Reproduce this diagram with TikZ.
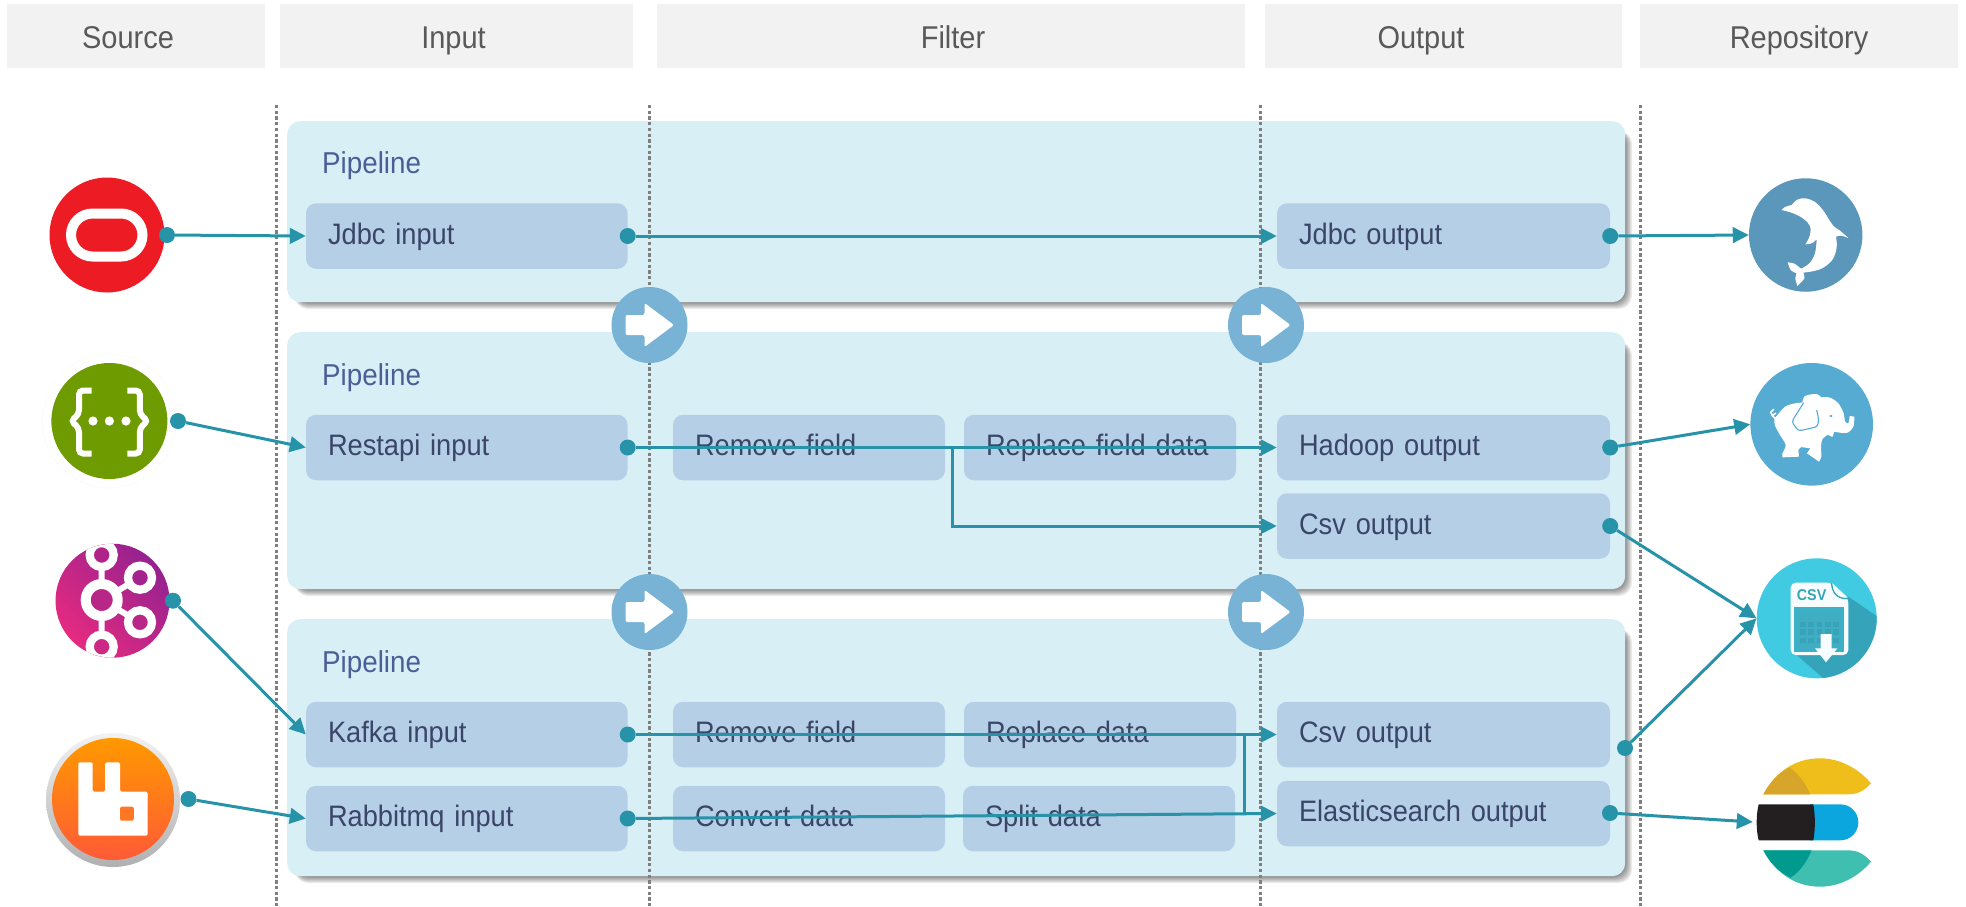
\documentclass[tikz,border=0pt]{standalone}
\usepackage{fontspec}
\setmainfont[FakeStretch=0.92,WordSpace=0.75]{Liberation Sans}
\usetikzlibrary{arrows.meta,calc}
\definecolor{hdrfill}{HTML}{F2F2F2}
\definecolor{hdrtext}{HTML}{595959}
\definecolor{pipefill}{HTML}{D9EFF6}
\definecolor{pipetext}{HTML}{4A5F96}
\definecolor{boxfill}{HTML}{B5CFE7}
\definecolor{boxtext}{HTML}{3A4568}
\definecolor{linkc}{HTML}{2793A8}
\definecolor{flowc}{HTML}{78B3D6}
\definecolor{dotgray}{HTML}{7F7F7F}
\definecolor{csvc}{HTML}{41CBE3}
\definecolor{csvd}{HTML}{35A4BA}
\definecolor{csvp}{HTML}{3BB0C6}
\definecolor{csvi}{HTML}{3FAEC3}
\definecolor{csvg}{HTML}{37A2B8}
\definecolor{bluebg}{HTML}{56ABD3}
\definecolor{mysqlbg}{HTML}{5B97BA}
\definecolor{orared}{RGB}{237,28,36}
\definecolor{swagring}{RGB}{250,250,246}
\definecolor{swaggreen}{RGB}{109,155,0}
\definecolor{kafpink}{RGB}{230,42,128}
\definecolor{kafpurple}{RGB}{150,34,144}
\definecolor{kafa}{RGB}{184,38,136}
\definecolor{kafb}{RGB}{176,36,138}
\definecolor{kafc}{RGB}{205,40,132}
\definecolor{kafd}{RGB}{165,35,140}
\definecolor{rabla}{RGB}{242,242,242}
\definecolor{rablb}{RGB}{176,176,176}
\definecolor{rabta}{RGB}{255,153,0}
\definecolor{rabtb}{RGB}{255,90,54}
\definecolor{rabh}{RGB}{255,118,36}
\definecolor{esyel}{RGB}{240,190,27}
\definecolor{esyeld}{RGB}{215,165,41}
\definecolor{esblue}{RGB}{12,166,223}
\definecolor{esblack}{RGB}{35,31,32}
\definecolor{esteal}{RGB}{62,191,176}
\definecolor{estealm}{RGB}{0,155,142}
\tikzset{
  hdrbox/.style={fill=hdrfill,inner sep=0pt},
  hdrlabel/.style={anchor=base,text=hdrtext,font=\fontsize{31.5}{34}\selectfont,inner sep=0pt},
  pipebox/.style={fill=pipefill,rounded corners=13pt,inner sep=0pt,anchor=north west},
  pipelabel/.style={anchor=base west,text=pipetext,font=\fontsize{30.2}{34}\selectfont,inner sep=0pt},
  elem/.style={fill=boxfill,rounded corners=10pt,inner xsep=22pt,inner ysep=0pt,minimum height=65.5pt,
     text=boxtext,font=\fontsize{29.6}{34}\selectfont,align=left,text height=22pt,text depth=6pt},
  elemin/.style={elem,minimum width=321.5pt,text width=277.5pt},
  elemflt/.style={elem,minimum width=272pt,text width=228pt},
  elemout/.style={elem,minimum width=333pt,text width=289pt},
  jointdot/.style={circle,fill=linkc,inner sep=0pt,minimum size=16pt},
  link/.style={draw=linkc,line width=3pt,-{Triangle[length=16pt,width=15.5pt]}},
  branch/.style={draw=linkc,line width=3pt},
  divider/.style={draw=dotgray,line width=3pt,dash pattern=on 3.3pt off 2.4pt},
  flowdisc/.style={circle,fill=flowc,inner sep=0pt,minimum size=76pt},
  icon/.style={circle,inner sep=0pt},
  flowarrow/.pic={\fill[white,rounded corners=2pt] (-24,-10) -- (-5,-10) -- (-5,-22) -- (24.5,0) -- (-5,22) -- (-5,10) -- (-24,10) -- cycle;}
}
\newcommand{\softshadow}[4]{%
  \foreach \k in {1,...,10}{\fill[black,opacity=.075,rounded corners=13pt] ({#1+8},{#2+10}) rectangle ({#3-3+\k},{#4-3+\k});}}
\begin{document}
\begin{tikzpicture}[x=1pt,y=-1pt]
\useasboundingbox (0,0) rectangle (1966,906);
% headers
\node[hdrbox,minimum width=258pt,minimum height=64pt] (hs) at (136,36) {};
\node[hdrbox,minimum width=353pt,minimum height=64pt] (hi) at (456.5,36) {};
\node[hdrbox,minimum width=588pt,minimum height=64pt] (hf) at (951,36) {};
\node[hdrbox,minimum width=357pt,minimum height=64pt] (ho) at (1443.5,36) {};
\node[hdrbox,minimum width=318pt,minimum height=64pt] (hr) at (1799,36) {};
\node[hdrlabel] (ls) at (128,48) {Source};
\node[hdrlabel] (li) at (453.5,48) {Input};
\node[hdrlabel] (lf) at (953,48) {Filter};
\node[hdrlabel] (lo) at (1421,48) {Output};
\node[hdrlabel] (lr) at (1799,48) {Repository};
% pipelines
\softshadow{287}{121}{1625}{302}
\softshadow{287}{332}{1625}{589}
\softshadow{287}{619}{1625}{876}
\node[pipebox,minimum width=1338pt,minimum height=181pt] (p1) at (287,121) {};
\node[pipebox,minimum width=1338pt,minimum height=257pt] (p2) at (287,332) {};
\node[pipebox,minimum width=1338pt,minimum height=257pt] (p3) at (287,619) {};
\node[pipelabel] (p1l) at (322,173.5) {Pipeline};
\node[pipelabel] (p2l) at (322,385) {Pipeline};
\node[pipelabel] (p3l) at (322,672) {Pipeline};
% dividers
\coordinate (v1t) at (276,105); \coordinate (v1b) at (276,906);
\coordinate (v2t) at (649.5,105); \coordinate (v2b) at (649.5,906);
\coordinate (v3t) at (1260,105); \coordinate (v3b) at (1260,906);
\coordinate (v4t) at (1640,105); \coordinate (v4b) at (1640,906);
\draw[divider] (v1t) -- (v1b);
\draw[divider] (v2t) -- (v2b);
\draw[divider] (v3t) -- (v3b);
\draw[divider] (v4t) -- (v4b);
% flow arrows
\node[flowdisc] (f1) at (649.5,325) {};
\node[flowdisc] (f2) at (1266,325) {};
\node[flowdisc] (f3) at (649.5,612) {};
\node[flowdisc] (f4) at (1266,612) {};
\pic at (f1) {flowarrow}; \pic at (f2) {flowarrow}; \pic at (f3) {flowarrow}; \pic at (f4) {flowarrow};
% elements
\node[elemin] (jin) at (466.75,236) {Jdbc input};
\node[elemout] (jout) at (1443.5,236) {Jdbc output};
\node[elemin] (rin) at (466.75,447.5) {Restapi input};
\node[elemflt] (rm1) at (809,447.5) {Remove field};
\node[elemflt] (rp1) at (1100,447.5) {Replace field data};
\node[elemout] (hout) at (1443.5,447.5) {Hadoop output};
\node[elemout] (c2out) at (1443.5,526) {Csv output};
\node[elemin] (kin) at (466.75,734.5) {Kafka input};
\node[elemflt] (rm2) at (809,734.5) {Remove field};
\node[elemflt] (rp2) at (1100,734.5) {Replace data};
\node[elemout] (c3out) at (1443.5,734.5) {Csv output};
\node[elemin] (qin) at (466.75,818.5) {Rabbitmq input};
\node[elemflt] (cv) at (809,818.5) {Convert data};
\node[elemflt] (sp) at (1099,818.5) {Split data};
\node[elemout] (eout) at (1443.5,813.5) {Elasticsearch output};
% source icons
\node[icon,fill=orared,minimum size=115pt] (oracle) at (107,235) {};
\draw[white,line width=10pt,rounded corners=21.5pt] (71,213.5) rectangle (142.5,256.5);
\node[icon,draw=swagring,line width=.7pt,minimum size=134pt] (swagoutline) at (109.4,421) {};
\node[icon,fill=swaggreen,minimum size=116pt] (swagger) at (109.4,421) {};
\begin{scope}[white,line width=6pt,rounded corners=4pt]
\draw (91.5,390.5) -- (79,390.5) -- (79,414) -- (71,421) -- (79,428) -- (79,453.5) -- (91.5,453.5);
\draw (127.3,390.5) -- (139.8,390.5) -- (139.8,414) -- (147.8,421) -- (139.8,428) -- (139.8,453.5) -- (127.3,453.5);
\end{scope}
\fill[white] (93,421) circle (4.6pt) (109.4,421) circle (4.6pt) (126,421) circle (4.6pt);
\node[icon,left color=kafpink,right color=kafpurple,shading angle=135,minimum size=114pt] (kafka) at (112.5,600.7) {};
\begin{scope}
\clip (112.5,600.7) circle (57pt);
\draw[white,line width=6pt] (101.7,555) -- (101.7,646.7) (101.7,600) -- (140,577.7) (101.7,600) -- (140,622.3);
\draw[white,line width=10pt,fill=kafa] (101.7,600) circle (16pt);
\draw[white,line width=8.3pt,fill=kafb] (101.7,555) circle (12pt);
\draw[white,line width=8.3pt,fill=kafc] (101.7,646.7) circle (12pt);
\draw[white,line width=8.3pt,fill=kafd] (140,577.7) circle (12pt);
\draw[white,line width=8.3pt,fill=kafa] (140,622.3) circle (12pt);
\end{scope}
\node[icon,top color=rabla,bottom color=rablb,minimum size=134pt] (rabring) at (113,800) {};
\node[icon,top color=rabta,bottom color=rabtb,minimum size=122pt] (rabbit) at (113,799) {};
\fill[white,rounded corners=1.5pt] (78.3,762.3) -- (92.6,762.3) -- (92.6,791.7) -- (105.2,791.7) -- (105.2,762.3) -- (120,762.3) -- (120,791.7) -- (147.7,791.7) -- (147.7,835.7) -- (78.3,835.7) -- cycle;
\fill[rabh,rounded corners=2pt] (120,806.7) rectangle (133.8,820.7);
% repository icons
\node[icon,fill=mysqlbg,minimum size=113.5pt] (mysql) at (1805.7,235) {};
\begin{scope}[shift={(1740,170)},scale=1/3]
\fill[white] plot[smooth,tension=.6] coordinates {(125,120) (135,111) (155,105)} -- plot[smooth,tension=.6] coordinates {(155,105) (172,89) (197,85) (225,96) (250,122) (278,165) (300,182) (325,204)} -- plot[smooth,tension=.6] coordinates {(325,204) (303,197) (288,200)} -- plot[smooth,tension=.6] coordinates {(288,200) (290,232) (278,268) (250,293) (222,303) (190,308)} -- plot[smooth,tension=.5] coordinates {(190,308) (193,325) (172,348)} -- plot[smooth,tension=.5] coordinates {(172,348) (166,325) (170,310)} -- plot[smooth,tension=.5] coordinates {(170,310) (152,300) (143,277)} -- plot[smooth,tension=.5] coordinates {(143,277) (163,281) (183,296)} -- plot[smooth,tension=.6] coordinates {(183,296) (208,280) (225,250) (230,208)} -- plot[smooth,tension=.5] coordinates {(230,208) (215,220) (196,223)} -- plot[smooth,tension=.6] coordinates {(196,223) (209,198) (210,168) (190,146) (160,130) (125,120)} -- cycle;
\end{scope}
\node[icon,fill=bluebg,minimum size=122.6pt] (hadoop) at (1811.7,424.3) {};
\begin{scope}[shift={(1745,360)},scale=1/3]
\fill[white] plot[smooth,tension=.55] coordinates {(95,168) (120,140) (150,130) (172,128)} -- plot[smooth,tension=.55] coordinates {(172,128) (180,108) (215,102) (228,112)} -- plot[smooth,tension=.55] coordinates {(228,112) (255,113) (280,130) (296,160) (300,184) (310,190) (314,168)} -- (328,170) -- plot[smooth,tension=.55] coordinates {(328,170) (325,200) (308,218) (285,218) (268,215)} -- (262,231) -- (248,224) -- plot[smooth,tension=.5] coordinates {(248,224) (232,238) (228,262) (229,290) (222,305)} -- (186,280) -- (196,265) -- (168,261) -- (160,270) -- (162,290) -- (112,292) -- (112,280) -- plot[smooth,tension=.5] coordinates {(112,280) (122,255) (105,225) (90,197) (88,178) (95,168)} -- cycle;
\draw[white,line width=1.6pt,line cap=round] (92,176) .. controls (82,172) and (82,165) .. (77,157) (77,157) -- (86,148) (82,166) -- (92,160);
\draw[bluebg,line width=1.1pt,rounded corners=3pt] (176,128) -- (140,185) -- (160,213) -- (218,200) -- (221,178) -- (215,150);
\fill[bluebg] (258,168) ellipse (5 and 3.5);
\end{scope}
\node[icon,fill=csvc,minimum size=120pt] (csv) at (1816.7,618.3) {};
\begin{scope}[shift={(1750,555)},scale=1/3]
\begin{scope}
\clip (200,190) circle (180);
\fill[csvd] (295,125) -- (380,183) -- (420,300) -- (300,420) -- (218,368) -- (140,300) -- cycle;
\end{scope}
\fill[white!96!csvc,rounded corners=5pt] (122,83) -- (245,83) -- (295,130) -- (295,300) -- (122,300) -- cycle;
\fill[csvp] (132,155) rectangle (283,290);
\fill[csvi,rounded corners=3pt] (143,170) rectangle (272,283);
\foreach \cx in {150,175,200,225,250}{\foreach \cy in {200,223,248}{\fill[csvg] (\cx,\cy) rectangle +(17,17);}}
\fill[white!96!csvc] (212,237) -- (245,237) -- (245,280) -- (262,280) -- (228,322) -- (195,280) -- (212,280) -- cycle;
\draw[csvd,line width=1.3pt,fill=white!96!csvc] (245,83) .. controls (245,112) and (262,134) .. (295,130);
\node[text=csvd,inner sep=0pt,anchor=base west,font=\bfseries\fontsize{15.6}{17}\selectfont] (csvt) at (140,135) {CSV};
\end{scope}
\begin{scope}[shift={(1600,500)},scale=1/3]
\fill[esyel] (490,883) .. controls (530,810) and (590,775) .. (660,775) .. controls (720,775) and (775,805) .. (813,850) .. controls (795,870) and (775,883) .. (745,883) -- cycle;
\fill[esyeld] (490,883) .. controls (510,845) and (535,820) .. (568,802) .. controls (600,825) and (620,855) .. (630,883) -- cycle;
\fill[esblue] (630,913) -- (721,913) .. controls (751,913) and (775,937) .. (775,967) .. controls (775,997) and (751,1021) .. (721,1021) -- (630,1021) -- cycle;
\fill[esblack] (476,913) -- (640,913) .. controls (646,945) and (646,990) .. (640,1021) -- (476,1021) .. controls (468,990) and (468,945) .. (476,913) -- cycle;
\fill[esteal] (490,1051) .. controls (530,1124) and (590,1160) .. (660,1160) .. controls (720,1160) and (775,1130) .. (813,1085) .. controls (795,1065) and (775,1051) .. (745,1051) -- cycle;
\fill[estealm] (490,1051) .. controls (510,1090) and (535,1115) .. (572,1133) .. controls (600,1115) and (620,1085) .. (635,1051) -- cycle;
\end{scope}
\node[inner sep=0pt,minimum width=118pt,minimum height=36pt] (es) at (1812,822) {};
% joint dots
\node[jointdot] (doracle) at (167,235) {};
\node[jointdot] (dswag) at (178,421) {};
\node[jointdot] (dkafka) at (173,600.7) {};
\node[jointdot] (drabbit) at (188.5,799) {};
\node[jointdot] (djin) at (jin.east) {};
\node[jointdot] (drin) at (rin.east) {};
\node[jointdot] (dkin) at (kin.east) {};
\node[jointdot] (dqin) at (qin.east) {};
\node[jointdot] (djout) at (jout.east) {};
\node[jointdot] (dhout) at (hout.east) {};
\node[jointdot] (dc2) at (c2out.east) {};
\node[jointdot] (dc3) at (1625,748) {};
\node[jointdot] (deout) at (1610,813) {};
% connectors
\coordinate (b2) at (952,447.5);
\coordinate (b3) at (1244,734.5);
\draw[link] (doracle) -- (jin.west);
\draw[link] (dswag) -- (rin.west);
\draw[link] (dkafka) -- (kin.west);
\draw[link] (drabbit) -- (qin.west);
\draw[link] (djin) -- (jout.west);
\draw[link] (drin) -- (hout.west);
\draw[link] (b2) -- (b2 |- c2out.west) -- (c2out.west);
\draw[link] (dkin) -- (c3out.west);
\draw[branch] (b3) -- (b3 |- eout.west);
\draw[link] (dqin) -- (eout.west);
\draw[link] (djout) -- (mysql.west);
\draw[link] (dhout) -- (hadoop.west);
\draw[link] (dc2) -- (csv.west);
\draw[link] (dc3) -- (csv.west);
\draw[link] (deout) -- (es.west);
\end{tikzpicture}
\end{document}
